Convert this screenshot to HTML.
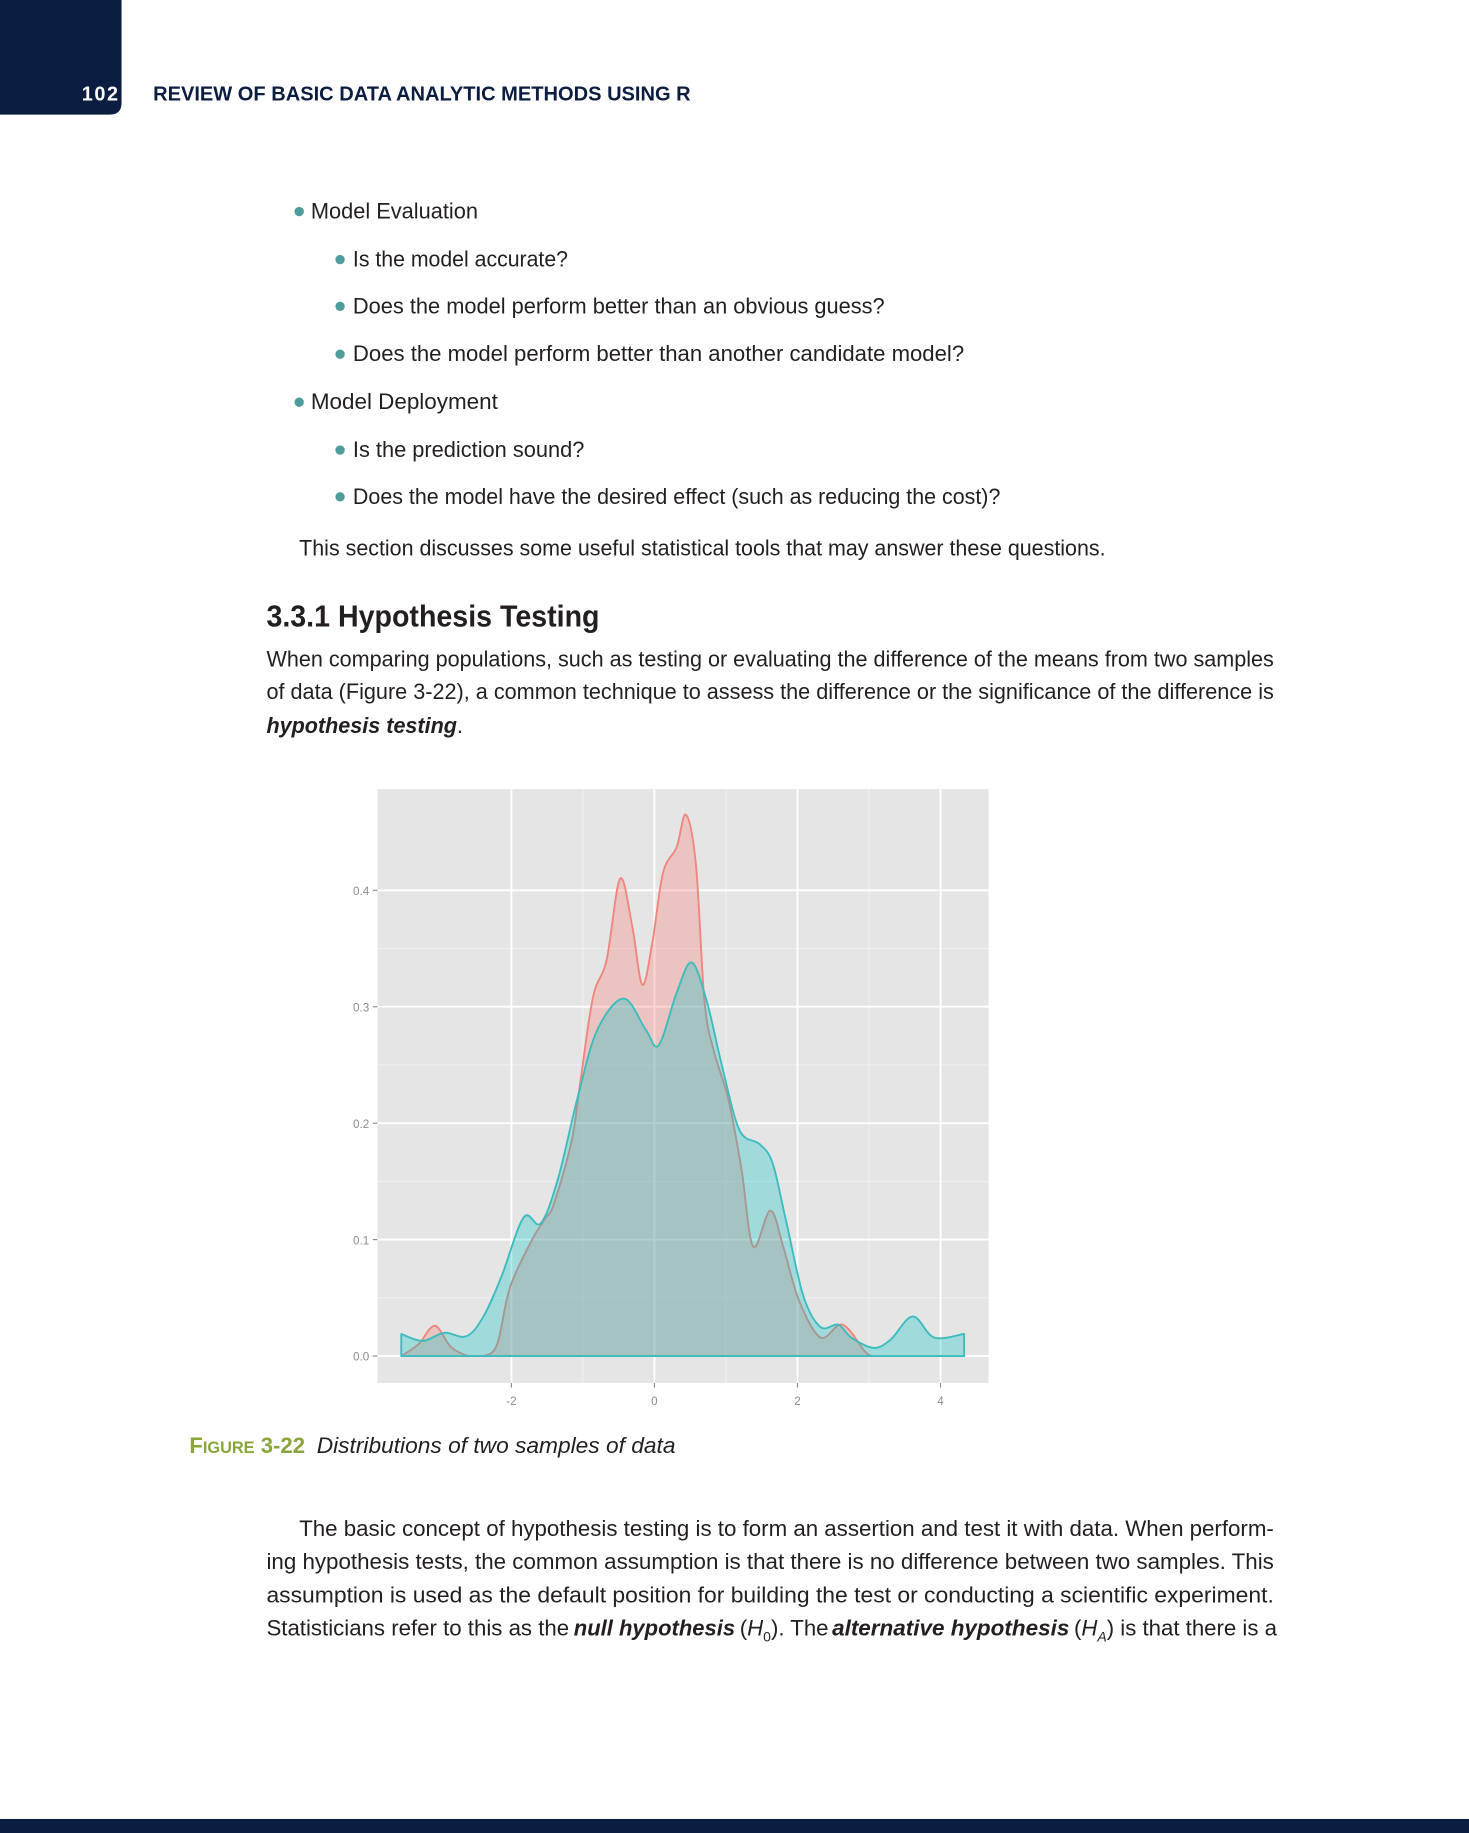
<!DOCTYPE html>
<html><head><meta charset="utf-8"><style>
html,body{margin:0;padding:0;background:#fff;}
svg{display:block;}
.t{font-family:"Liberation Sans",sans-serif;fill:#231f20;font-size:19px;}
.bi{font-weight:bold;font-style:italic;}
.tick{font-family:"Liberation Sans",sans-serif;fill:#8c8c8c;font-size:10px;}
</style></head><body>
<svg id="page" width="1469" height="1833" viewBox="0 0 1257 1568" preserveAspectRatio="none" xmlns="http://www.w3.org/2000/svg">
<path d="M0 0H104V88Q104 98 94 98H0Z" fill="#0b1d40"/>
<text x="70" y="86" font-family="Liberation Sans,sans-serif" font-weight="bold" font-size="17" fill="#fff" textLength="31">102</text>
<text x="131" y="86" font-family="Liberation Sans,sans-serif" font-weight="bold" font-size="17" fill="#0b1d40" textLength="460" lengthAdjust="spacingAndGlyphs">REVIEW OF BASIC DATA ANALYTIC METHODS USING R</text>

<g>
<circle cx="256" cy="181" r="4" fill="#4e9c9b"/><text class="t" x="266" y="187" textLength="143" lengthAdjust="spacingAndGlyphs">Model Evaluation</text>
<circle cx="291" cy="222" r="4" fill="#4e9c9b"/><text class="t" x="302" y="228" textLength="184" lengthAdjust="spacingAndGlyphs">Is the model accurate?</text>
<circle cx="291" cy="262" r="4" fill="#4e9c9b"/><text class="t" x="302" y="268" textLength="455" lengthAdjust="spacingAndGlyphs">Does the model perform better than an obvious guess?</text>
<circle cx="291" cy="303" r="4" fill="#4e9c9b"/><text class="t" x="302" y="309" textLength="523" lengthAdjust="spacingAndGlyphs">Does the model perform better than another candidate model?</text>
<circle cx="256" cy="344" r="4" fill="#4e9c9b"/><text class="t" x="266" y="350" textLength="160" lengthAdjust="spacingAndGlyphs">Model Deployment</text>
<circle cx="291" cy="385" r="4" fill="#4e9c9b"/><text class="t" x="302" y="391" textLength="198" lengthAdjust="spacingAndGlyphs">Is the prediction sound?</text>
<circle cx="291" cy="425" r="4" fill="#4e9c9b"/><text class="t" x="302" y="431" textLength="554" lengthAdjust="spacingAndGlyphs">Does the model have the desired effect (such as reducing the cost)?</text>
</g>
<text class="t" x="256" y="475" textLength="690" lengthAdjust="spacingAndGlyphs">This section discusses some useful statistical tools that may answer these questions.</text>
<text x="228" y="536" font-family="Liberation Sans,sans-serif" font-weight="bold" font-size="26" fill="#231f20" textLength="285" lengthAdjust="spacingAndGlyphs">3.3.1 Hypothesis Testing</text>
<text class="t" x="228" y="570" textLength="862" lengthAdjust="spacingAndGlyphs">When comparing populations, such as testing or evaluating the difference of the means from two samples</text>
<text class="t" x="228" y="598" textLength="862" lengthAdjust="spacingAndGlyphs">of data (Figure 3-22), a common technique to assess the difference or the significance of the difference is</text>
<text class="t bi" x="228" y="627" textLength="163" lengthAdjust="spacingAndGlyphs">hypothesis testing</text>
<text class="t" x="391" y="627">.</text>

<g id="chart">
<rect x="323" y="675" width="523" height="508" fill="#e5e5e5"/>
<g id="grid"></g>
<g id="marks"></g>
<g id="axes"></g>
</g>

<text x="162" y="1243" font-family="Liberation Sans,sans-serif" font-weight="bold" font-size="19" fill="#8aa63a" textLength="99" lengthAdjust="spacingAndGlyphs">F<tspan font-size="14">IGURE</tspan> 3-22</text>
<text class="t" x="271" y="1243" font-style="italic" textLength="307" lengthAdjust="spacingAndGlyphs">Distributions of two samples of data</text>

<text class="t" x="256" y="1314" textLength="834" lengthAdjust="spacingAndGlyphs">The basic concept of hypothesis testing is to form an assertion and test it with data. When perform-</text>
<text class="t" x="228" y="1342" textLength="862" lengthAdjust="spacingAndGlyphs">ing hypothesis tests, the common assumption is that there is no difference between two samples. This</text>
<text class="t" x="228" y="1371" textLength="862" lengthAdjust="spacingAndGlyphs">assumption is used as the default position for building the test or conducting a scientific experiment.</text>
<text class="t" x="228" y="1399" textLength="259" lengthAdjust="spacingAndGlyphs">Statisticians refer to this as the</text>
<text class="t bi" x="491" y="1399" textLength="138" lengthAdjust="spacingAndGlyphs">null hypothesis</text>
<text class="t" x="633" y="1399">(<tspan font-style="italic">H</tspan><tspan font-size="12" dy="5">0</tspan><tspan dy="-5">). The</tspan></text>
<text class="t bi" x="712" y="1399" textLength="203" lengthAdjust="spacingAndGlyphs">alternative hypothesis</text>
<text class="t" x="919" y="1399">(<tspan font-style="italic">H</tspan><tspan font-size="12" font-style="italic" dy="5">A</tspan><tspan dy="-5">) is that there is a</tspan></text>

<rect x="0" y="1556" width="1257" height="12" fill="#0b1d40"/>
</svg>
<script>
const xTicks=[-2,0,2,4];
const yTicks=[0,0.1,0.2,0.3,0.4];
const yTickLabels=["0.0","0.1","0.2","0.3","0.4"];
const redX=[-3.54,-3.3,-3.07,-2.85,-2.6,-2.39,-2.2,-2.02,-1.71,-1.53,-1.41,-1.16,-1.04,-0.86,-0.67,-0.48,-0.31,-0.17,-0.03,0.12,0.31,0.44,0.58,0.70,0.83,1.04,1.22,1.38,1.62,1.80,2.02,2.32,2.63,2.94,3.03];
const redY=[0,0.01,0.026,0.008,0,0,0.01,0.059,0.10,0.118,0.13,0.184,0.234,0.308,0.34,0.41,0.369,0.319,0.355,0.415,0.437,0.465,0.422,0.305,0.262,0.219,0.159,0.094,0.125,0.094,0.048,0.016,0.027,0.004,0];
const tealX=[-3.54,-3.24,-2.94,-2.63,-2.39,-2.14,-1.83,-1.59,-1.35,-1.07,-0.80,-0.43,-0.12,0.06,0.31,0.52,0.73,0.95,1.19,1.47,1.65,1.83,2.08,2.32,2.57,2.75,3.06,3.30,3.61,3.91,4.33];
const tealY=[0.019,0.013,0.020,0.017,0.034,0.068,0.119,0.114,0.152,0.223,0.280,0.307,0.280,0.267,0.312,0.338,0.305,0.248,0.194,0.182,0.166,0.119,0.052,0.025,0.027,0.016,0.007,0.014,0.034,0.016,0.019];
const NS="http://www.w3.org/2000/svg";
const L=323,R=846,T=675,B=1183;
function sx(v){return 560+v*61.2;}
function sy(d){return 1160-d*996;}
function mk(tag,attrs,parent){const e=document.createElementNS(NS,tag);for(const k in attrs)e.setAttribute(k,attrs[k]);parent.appendChild(e);return e;}
const grid=document.getElementById('grid'),marks=document.getElementById('marks'),axes=document.getElementById('axes');
for(let i=0;i<xTicks.length-1;i++){const v=(xTicks[i]+xTicks[i+1])/2;const g=mk('line',{x1:sx(v),x2:sx(v),y1:T,y2:B,stroke:'#f2f2f2','stroke-width':0.8},grid);

}
for(let i=0;i<yTicks.length-1;i++){const v=(yTicks[i]+yTicks[i+1])/2;const g=mk('line',{x1:L,x2:R,y1:sy(v),y2:sy(v),stroke:'#f2f2f2','stroke-width':0.8},grid);

}
xTicks.forEach(v=>{const g=mk('line',{x1:sx(v),x2:sx(v),y1:T,y2:B,stroke:'#fff','stroke-width':1.6},grid);


const tk=mk('line',{x1:sx(v),x2:sx(v),y1:B,y2:B+4,stroke:'#8c8c8c','stroke-width':1},axes);


const t=mk('text',{x:sx(v),y:B+19,'text-anchor':'middle','class':'tick'},axes);t.textContent=String(v);

});
yTicks.forEach((v,i)=>{const g=mk('line',{x1:L,x2:R,y1:sy(v),y2:sy(v),stroke:'#fff','stroke-width':1.6},grid);


const tk=mk('line',{x1:L-4,x2:L,y1:sy(v),y2:sy(v),stroke:'#8c8c8c','stroke-width':1},axes);


const t=mk('text',{x:L-7,y:sy(v)+4,'text-anchor':'end','class':'tick'},axes);t.textContent=yTickLabels[i];

});
function curve(xs,ys){const p=xs.map((x,i)=>[sx(x),sy(ys[i])]);let d='';
for(let i=0;i<p.length-1;i++){const p0=p[Math.max(0,i-1)],p1=p[i],p2=p[i+1],p3=p[Math.min(p.length-1,i+2)];
const c1=[p1[0]+(p2[0]-p0[0])/6,Math.min(sy(0),p1[1]+(p2[1]-p0[1])/6)],c2=[p2[0]-(p3[0]-p1[0])/6,Math.min(sy(0),p2[1]-(p3[1]-p1[1])/6)];
d+=` C${c1[0].toFixed(1)} ${c1[1].toFixed(1)} ${c2[0].toFixed(1)} ${c2[1].toFixed(1)} ${p2[0].toFixed(1)} ${p2[1].toFixed(1)}`;}
return {start:p[0],end:p[p.length-1],d};}
function area(xs,ys,fill,stroke,name){const c=curve(xs,ys);const x0=sx(xs[0]),x1=sx(xs[xs.length-1]),b=sy(0);
const d=`M${x0} ${b} L${c.start[0]} ${c.start[1]}${c.d} L${x1} ${b} Z`;
const e=mk('path',{d:d,fill:fill,stroke:stroke,'stroke-width':1.6,'stroke-linejoin':'round'},marks);

}
area(redX,redY,'rgba(248,118,109,0.3)','#f0857e','density-sample-1');
area(tealX,tealY,'rgba(0,191,196,0.3)','#3dbcbe','density-sample-2');
</script>
</body></html>
